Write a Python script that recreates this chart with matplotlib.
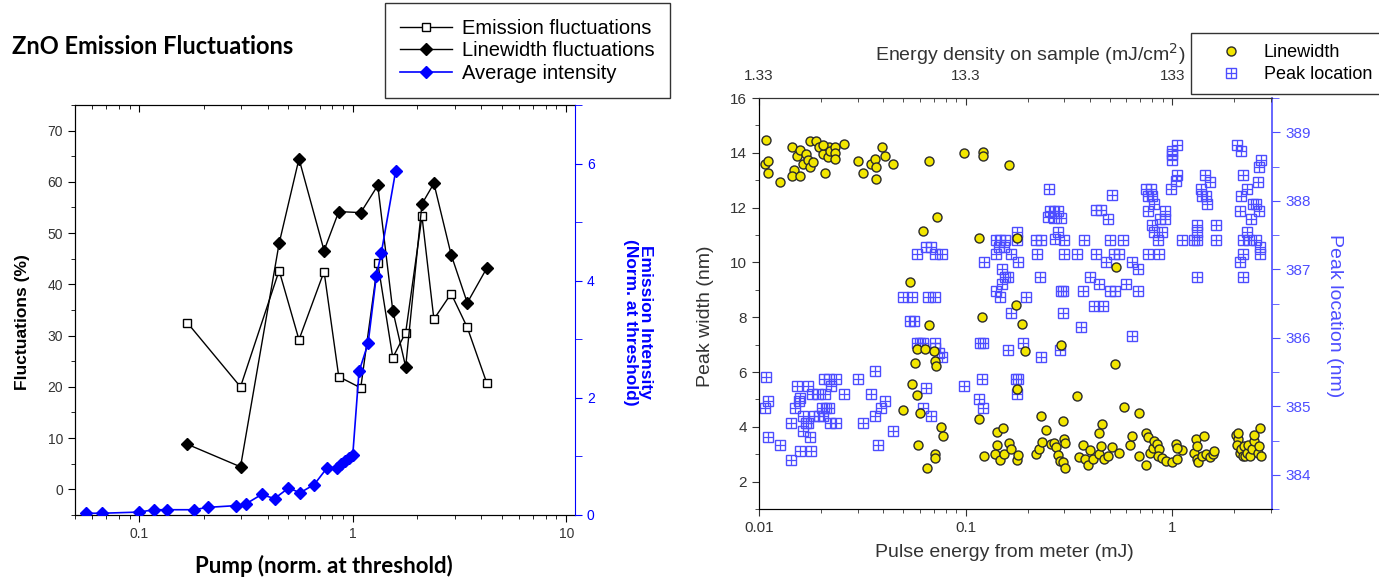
import matplotlib
matplotlib.use('Agg')
import matplotlib.pyplot as plt
from matplotlib.legend_handler import HandlerTuple
from matplotlib.ticker import MultipleLocator, FixedLocator, NullFormatter

plt.rcParams['font.family'] = ['Liberation Sans', 'DejaVu Sans']

# ---- left panel data (pump normalised at threshold) ----
pump_fluct = [0.168, 0.298, 0.452, 0.56, 0.734, 0.86, 1.09, 1.31, 1.54, 1.77, 2.11, 2.40, 2.89, 3.44, 4.25]
emission_fluct = [32.5, 20.0, 42.7, 29.2, 42.5, 22.0, 19.8, 44.2, 25.7, 30.6, 53.3, 33.2, 38.2, 31.6, 20.7]
linewidth_fluct = [8.8, 4.4, 48.0, 64.5, 46.6, 54.2, 54.0, 59.3, 34.9, 23.9, 55.7, 59.7, 45.8, 36.4, 43.2]

pump_int = [0.056, 0.067, 0.100, 0.117, 0.135, 0.180, 0.209, 0.284, 0.316, 0.374, 0.430, 0.500, 0.567,
            0.660, 0.760, 0.840, 0.880, 0.920, 0.960, 1.000, 1.070, 1.180, 1.290, 1.360, 1.590]
intensity = [0.03, 0.03, 0.05, 0.09, 0.09, 0.09, 0.13, 0.16, 0.19, 0.35, 0.28, 0.46, 0.38,
             0.52, 0.81, 0.81, 0.87, 0.93, 0.98, 1.02, 2.45, 2.93, 4.08, 4.47, 5.88]

# ---- right panel data: linewidth (nm) vs pulse energy (mJ) ----
lw_energy = [0.0108, 0.0107, 0.011, 0.011, 0.0126, 0.0144, 0.0147, 0.0144, 0.0158, 0.0152, 0.0158, 0.0164,
             0.0169, 0.0172, 0.0176, 0.0183, 0.0176, 0.0188, 0.0195, 0.0204, 0.0209, 0.0217, 0.0204, 0.0215,
             0.022, 0.0232, 0.0232, 0.0232, 0.0259, 0.030, 0.0318, 0.0348, 0.0365, 0.0368, 0.037, 0.0392,
             0.0407, 0.0443, 0.0667, 0.0984, 0.1216, 0.1216, 0.162, 0.0725, 0.0625, 0.1167, 0.178, 0.537,
             0.054, 0.120, 0.176, 0.0667, 0.1875, 0.289, 0.058, 0.0634, 0.0706, 0.194, 0.0569, 0.071,
             0.0718, 0.527, 0.0552, 0.0583, 0.178, 0.0495, 0.0604, 0.345, 0.587, 0.69, 0.116, 0.232,
             0.296, 0.459, 0.44, 0.245, 0.0764, 0.0775, 0.142, 0.151, 0.059, 0.0653, 0.0714, 0.0714,
             0.123, 0.142, 0.138, 0.147, 0.153, 0.162, 0.165, 0.178, 0.179, 0.219, 0.227, 0.233,
             0.258, 0.267, 0.275, 0.281, 0.285, 0.296, 0.304, 0.30, 0.304, 0.355, 0.37, 0.38,
             0.393, 0.40, 0.415, 0.44, 0.45, 0.47, 0.49, 0.51, 0.55, 0.627, 0.64, 0.69,
             0.745, 0.76, 0.745, 0.78, 0.81, 0.82, 0.84, 0.86, 0.85, 0.89, 0.93, 1.0,
             1.04, 1.05, 1.11, 1.06, 1.27, 1.30, 1.32, 1.32, 1.34, 1.40, 1.42, 1.46,
             1.52, 1.57, 1.60, 2.04, 2.08, 2.06, 2.13, 2.16, 2.20, 2.22, 2.25, 2.30,
             2.33, 2.38, 2.42, 2.48, 2.50, 2.60, 2.62, 2.67, 2.70, 2.08]
lw_width = [14.45, 13.58, 13.69, 13.27, 12.93, 14.2, 13.36, 13.15, 13.15, 13.9, 14.12, 13.6,
            13.96, 13.75, 13.5, 13.68, 14.42, 14.42, 14.2, 13.96, 13.27, 14.2, 14.3, 13.84,
            14.08, 14.2, 13.98, 13.78, 14.33, 13.69, 13.27, 13.58, 13.78, 13.48, 13.05, 14.2,
            13.9, 13.58, 13.69, 13.98, 14.02, 13.9, 13.56, 11.65, 11.14, 10.9, 10.9, 9.84,
            9.3, 8.02, 8.45, 7.7, 7.75, 6.99, 6.85, 6.85, 6.75, 6.75, 6.33, 6.41,
            6.23, 6.3, 5.58, 5.16, 5.38, 4.63, 4.51, 5.12, 4.74, 4.51, 4.3, 4.41,
            4.2, 4.1, 3.77, 3.87, 3.99, 3.66, 3.8, 3.96, 3.35, 2.48, 3.0, 2.87,
            2.93, 3.33, 3.02, 2.8, 3.0, 3.4, 3.18, 2.8, 2.96, 3.0, 3.18, 3.44,
            3.36, 3.42, 3.26, 2.96, 2.75, 2.72, 2.48, 3.56, 3.4, 2.9, 3.33, 2.84,
            2.6, 3.14, 2.81, 3.0, 3.3, 2.81, 2.93, 3.26, 3.05, 3.33, 3.66, 2.93,
            3.78, 3.62, 2.6, 3.05, 3.24, 3.48, 3.36, 3.18, 2.93, 2.85, 2.75, 2.72,
            3.36, 2.84, 3.14, 3.24, 3.03, 3.56, 3.3, 2.81, 2.72, 2.93, 3.66, 3.0,
            2.9, 3.0, 3.12, 3.7, 3.55, 3.34, 3.06, 3.18, 2.93, 3.3, 2.93, 3.05,
            3.34, 2.93, 3.18, 3.5, 3.7, 3.05, 3.3, 3.96, 2.93, 3.78]

# ---- right panel data: peak location (nm) vs pulse energy (mJ) ----
pk_energy = [0.252, 0.25, 0.256, 0.268, 0.28, 0.268, 0.29, 0.28, 0.27, 0.22, 0.232, 0.30,
             0.373, 0.50, 0.58, 0.177, 0.178, 0.14, 0.147, 0.155, 0.145, 0.153, 0.14, 0.165,
             0.18, 0.123, 0.058, 0.064, 0.068, 0.071, 0.077, 0.222, 0.30, 0.345, 0.43, 0.48,
             0.52, 0.55, 0.51, 0.43, 0.45, 0.49, 0.64, 0.68, 0.76, 0.86, 0.75, 0.79,
             0.76, 0.80, 0.82, 0.76, 0.92, 0.87, 0.92, 0.80, 0.82, 0.89, 0.85, 0.99,
             1.0, 1.0, 1.0, 1.06, 1.04, 1.06, 1.11, 1.27, 1.32, 1.32, 1.32, 1.32,
             1.44, 1.53, 1.38, 1.40, 1.46, 1.47, 1.62, 1.62, 2.05, 2.16, 2.20, 2.30,
             2.16, 2.14, 2.40, 2.45, 2.55, 2.63, 2.60, 2.62, 2.68, 2.30, 2.20, 2.35,
             2.55, 2.66, 2.66, 2.20, 2.14, 2.20, 0.23, 0.40, 0.29, 0.37, 0.44, 0.50,
             0.53, 0.60, 0.68, 0.15, 0.155, 0.16, 0.15, 0.14, 0.146, 0.195, 0.050, 0.055,
             0.066, 0.071, 0.054, 0.056, 0.058, 0.060, 0.062, 0.071, 0.071, 0.074, 0.077, 0.064,
             0.062, 0.068, 0.098, 0.116, 0.121, 0.117, 0.121, 0.120, 0.161, 0.165, 0.190, 0.175,
             0.180, 0.178, 0.232, 0.296, 0.296, 0.285, 0.36, 0.42, 0.46, 0.64,
             0.0108, 0.0107, 0.011, 0.011, 0.0127, 0.0143, 0.0143, 0.015, 0.0152, 0.0172, 0.0156, 0.0158,
             0.0158, 0.0179, 0.0164, 0.0164, 0.0168, 0.0172, 0.0176, 0.018, 0.0194, 0.0209, 0.0185, 0.0195,
             0.0204, 0.0201, 0.021, 0.0217, 0.0206, 0.0217, 0.0223, 0.0236, 0.022, 0.0236, 0.0258, 0.030,
             0.0318, 0.035, 0.0365, 0.0365, 0.0376, 0.039, 0.0407, 0.0443]
pk_location = [388.17, 387.76, 387.85, 387.85, 387.85, 387.75, 387.75, 387.55, 387.44, 387.43, 387.43, 387.43,
               387.43, 387.43, 387.43, 387.55, 387.43, 387.43, 387.43, 387.43, 387.32, 387.32, 387.22, 387.22,
               387.10, 387.10, 387.22, 387.32, 387.32, 387.22, 387.22, 387.22, 387.22, 387.22, 387.22, 387.10,
               387.22, 387.22, 388.08, 387.86, 387.86, 387.74, 387.10, 387.00, 387.22, 387.22, 388.17, 388.17,
               388.07, 388.07, 387.96, 387.85, 387.85, 387.74, 387.74, 387.65, 387.55, 387.55, 387.43, 388.17,
               388.60, 388.68, 388.72, 388.82, 388.29, 388.38, 387.43, 387.43, 387.43, 387.65, 387.55, 386.89,
               388.38, 388.27, 388.17, 388.07, 388.07, 387.96, 387.65, 387.43, 388.82, 388.72, 388.38, 388.17,
               388.07, 387.85, 387.74, 387.96, 387.96, 387.85, 388.27, 388.50, 388.60, 387.55, 387.43, 387.43,
               387.43, 387.33, 387.22, 387.22, 387.10, 386.89, 386.89, 386.89, 386.68, 386.68, 386.78, 386.68,
               386.68, 386.78, 386.68, 387.00, 386.89, 386.89, 386.78, 386.68, 386.60, 386.60, 386.60, 386.60,
               386.60, 386.60, 386.24, 386.24, 385.93, 385.93, 385.93, 385.93, 385.85, 385.78, 385.72, 385.27,
               384.97, 384.86, 385.29, 385.10, 384.97, 385.93, 385.93, 385.40, 385.82, 386.36, 385.93, 385.40,
               385.40, 385.18, 385.72, 386.68, 386.36, 385.82, 386.15, 386.47, 386.47, 386.03,
               385.42, 384.97, 385.08, 384.55, 384.44, 384.22, 384.76, 384.97, 385.29, 385.29, 385.08, 385.12,
               384.34, 384.34, 384.86, 384.64, 384.76, 384.76, 384.55, 385.18, 385.18, 385.18, 384.86, 384.86,
               384.86, 384.97, 384.97, 384.97, 385.40, 385.40, 385.29, 385.40, 384.76, 384.76, 385.18, 385.40,
               384.76, 385.18, 385.52, 384.86, 384.44, 384.97, 385.08, 384.64]

top_tick_labels = ['1.33', '13.3', '133']

BLUE = '#0000ff'
LBLUE = '#4d4dff'
TXT = '#333333'

fig = plt.figure(figsize=(13.79, 5.81), dpi=100)

# ================= left panel =================
ax1 = fig.add_axes([0.0544, 0.1136, 0.3626, 0.7057])
ax1.set_xscale('log')
ax1.set_xlim(0.05, 11)
ax1.set_ylim(-5, 75)
l_em, = ax1.plot(pump_fluct, emission_fluct, color='black', lw=1.0, marker='s', ms=6,
                 mfc='white', mec='black', mew=1.0, label='Emission fluctuations')
l_lw, = ax1.plot(pump_fluct, linewidth_fluct, color='black', lw=1.0, marker='D', ms=6,
                 mfc='black', mec='black', label='Linewidth fluctuations')
ax1.yaxis.set_major_locator(MultipleLocator(10))
ax1.yaxis.set_minor_locator(MultipleLocator(5))
ax1.tick_params(axis='both', which='both', direction='out', labelsize=10, colors='black',
                labelcolor=TXT, top=False, right=False)
ax1.tick_params(which='major', length=5)
ax1.tick_params(which='minor', length=3)
ax1.set_xticks([0.1, 1, 10], labels=['0.1', '1', '10'])
ax1.spines['right'].set_visible(False)
ax1.set_ylabel('Fluctuations (%)', fontsize=12.5, fontweight='bold')
ax1.yaxis.set_label_coords(-0.09, 0.47)
ax1.set_xlabel('Pump (norm. at threshold)', family=['Lato', 'DejaVu Sans'], fontsize=16,
               fontweight='bold', va='center')
ax1.xaxis.set_label_coords(0.498, -0.125)

ax1t = ax1.twiny()
ax1t.set_xscale('log')
ax1t.set_xlim(ax1.get_xlim())
ax1t.tick_params(axis='x', which='both', direction='in', labeltop=False)
ax1t.tick_params(which='major', length=5)
ax1t.tick_params(which='minor', length=3)
ax1t.spines['right'].set_visible(False)

ax1r = ax1.twinx()
ax1r.set_ylim(0, 7)
l_int, = ax1r.plot(pump_int, intensity, color=BLUE, lw=1.2, marker='D', ms=6,
                   mfc=BLUE, mec=BLUE, label='Average intensity')
ax1r.yaxis.set_major_locator(FixedLocator([0, 2, 4, 6]))
ax1r.yaxis.set_minor_locator(FixedLocator([1, 3, 5, 7]))
ax1r.tick_params(axis='y', which='both', direction='out', colors=BLUE, labelsize=10)
ax1r.tick_params(which='major', length=5)
ax1r.tick_params(which='minor', length=5)
ax1r.spines['right'].set_color(BLUE)
for s in ['left', 'top', 'bottom']:
    ax1r.spines[s].set_visible(False)
ax1r.set_ylabel('Emission Intensity\n(Norm. at threshold)', fontsize=12.5, fontweight='bold',
                color=BLUE, rotation=270, va='center', linespacing=1.0)
ax1r.yaxis.set_label_coords(1.125, 0.47)

fig.text(12 / 1379, 1 - 47 / 581, 'ZnO Emission Fluctuations', family=['Lato', 'DejaVu Sans'],
         fontsize=17, fontweight='bold', va='center', ha='left')

leg1 = fig.legend(handles=[l_em, l_lw, l_int], loc='upper left', bbox_to_anchor=(0.279, 0.994),
                  fontsize=14.5, frameon=True, fancybox=False, edgecolor='black', handlelength=2.6,
                  borderpad=0.75, labelspacing=0.18, handletextpad=0.5, borderaxespad=0)
leg1.get_frame().set_linewidth(1.0)

# ================= right panel =================
ax2 = fig.add_axes([0.5504, 0.1239, 0.372, 0.7074])
ax2.set_xscale('log')
ax2.set_xlim(0.01, 3.04)
ax2.set_ylim(1, 16)
ax2r = ax2.twinx()
ax2r.set_ylim(383.5, 389.5)

sq, = ax2r.plot(pk_energy, pk_location, ls='none', marker='s', ms=6.5, mfc='none', mec=LBLUE, mew=1.0)
pl, = ax2r.plot(pk_energy, pk_location, ls='none', marker='+', ms=6.5, mec=LBLUE, mew=0.9)
yl, = ax2.plot(lw_energy, lw_width, ls='none', marker='o', ms=6.5, mfc='#f2e600', mec='#2b2b2b',
               mew=1.0)
ax2.set_zorder(ax2r.get_zorder() + 1)
ax2.patch.set_visible(False)

ax2.yaxis.set_major_locator(MultipleLocator(2))
ax2.yaxis.set_minor_locator(MultipleLocator(1))
ax2.tick_params(axis='both', which='both', direction='out', labelsize=11, labelcolor=TXT,
                colors='#333333', top=False, right=False)
ax2.tick_params(which='major', length=5)
ax2.tick_params(which='minor', length=3)
ax2.set_xticks([0.01, 0.1, 1], labels=['0.01', '0.1', '1'])
ax2.spines['right'].set_visible(False)
for s in ['left', 'top', 'bottom']:
    ax2.spines[s].set_color('#333333')
ax2.set_xlabel('Pulse energy from meter (mJ)', fontsize=14, color=TXT)
ax2.xaxis.set_label_coords(0.478, -0.085)
ax2.set_ylabel('Peak width (nm)', fontsize=14, color=TXT)
ax2.yaxis.set_label_coords(-0.088, 0.47)

ax2r.yaxis.set_major_locator(MultipleLocator(1))
ax2r.yaxis.set_minor_locator(MultipleLocator(0.5))
ax2r.tick_params(axis='y', which='both', direction='out', colors=LBLUE, labelsize=11)
ax2r.tick_params(which='major', length=6)
ax2r.tick_params(which='minor', length=5)
ax2r.spines['right'].set_color(LBLUE)
ax2r.spines['right'].set_linewidth(1.2)
for s in ['left', 'top', 'bottom']:
    ax2r.spines[s].set_visible(False)
ax2r.set_ylabel('Peak location (nm)', fontsize=14, color=LBLUE, rotation=270, va='center')
ax2r.yaxis.set_label_coords(1.121, 0.47)

ax2t = ax2.twiny()
ax2t.set_xscale('log')
ax2t.set_xlim(ax2.get_xlim())
ax2t.set_xticks([0.01, 0.1, 1], labels=top_tick_labels)
ax2t.xaxis.set_minor_formatter(NullFormatter())
ax2t.tick_params(axis='x', which='both', direction='in', labelsize=11, labelcolor=TXT,
                 colors='#333333', pad=11)
ax2t.tick_params(which='major', length=5)
ax2t.tick_params(which='minor', length=3)
ax2t.spines['right'].set_visible(False)
ax2t.spines['top'].set_color('#333333')
ax2t.set_xlabel('Energy density on sample (mJ/cm$^2$)', fontsize=14, color=TXT)
ax2t.xaxis.set_label_coords(0.528, 1.09)

leg2 = fig.legend(handles=[yl, (sq, pl)], labels=['Linewidth', 'Peak location'],
                  handler_map={tuple: HandlerTuple(ndivide=1)},
                  loc='upper left', bbox_to_anchor=(0.864, 0.943), fontsize=13,
                  frameon=True, fancybox=False, edgecolor='black', handlelength=3.2,
                  borderpad=0.6, labelspacing=0.3, handletextpad=0.2, borderaxespad=0)
leg2.get_frame().set_linewidth(1.0)

fig.savefig('out.png', dpi=100)
